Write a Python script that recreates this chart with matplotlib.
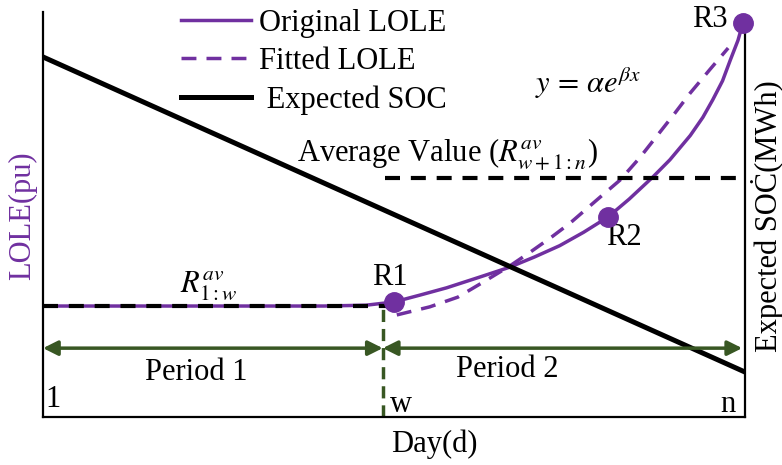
import matplotlib.pyplot as plt

plt.rcParams['font.family'] = ['Liberation Serif', 'DejaVu Serif']
plt.rcParams['mathtext.fontset'] = 'stix'

PURPLE = '#7030A0'
GREEN = '#385723'

# day axis scaled 0..100 (day 1 .. day n), LOLE / SOC scaled 0..100
soc_x = [0, 100]
soc_y = [88.9, 11.1]

flat_x = [0, 40, 46, 50]
flat_y = [27.4, 27.4, 27.6, 28.4]

orig_x = [50.0, 53.7, 57.5, 62.3, 66.5, 70.0, 73.6, 77.0, 80.5, 83.5, 86.9, 89.3,
          92.2, 94.0, 95.4, 96.8, 97.9, 99.0, 99.7]
orig_y = [28.4, 30.1, 31.9, 34.6, 37.0, 39.5, 42.3, 45.6, 49.4, 53.8, 59.3, 63.5,
          69.5, 74.0, 78.3, 83.0, 88.1, 93.0, 97.3]

fit_x = [50.4, 55.1, 59.1, 62.7, 66.5, 69.4, 72.5, 75.1, 78.9, 82.2, 85.0, 87.5,
         90.0, 92.2, 95.0, 97.6]
fit_y = [25.2, 27.2, 29.6, 33.3, 37.3, 40.7, 44.5, 47.9, 53.6, 58.5, 64.0, 69.5,
         75.0, 80.0, 85.8, 91.1]

key_points = {'R1': (50.0, 28.4), 'R2': (80.5, 49.4), 'R3': (99.7, 97.3)}

avg1_y = 27.4      # R_{1:w}^{av}
avg2_y = 59.0      # R_{w+1:n}^{av}
w_day = 48.4

fig = plt.figure(figsize=(7.82, 4.65), dpi=100)
ax = fig.add_axes([43 / 782, 48 / 465, 702 / 782, 405 / 465])
ax.set_xlim(0, 100)
ax.set_ylim(0, 100)
ax.set_xticks([])
ax.set_yticks([])
ax.spines['top'].set_visible(False)
ax.spines['right'].set_bounds(0, 96.8)
for s in ax.spines.values():
    s.set_linewidth(1.6)

# LOLE curves
ax.plot(flat_x, flat_y, color=PURPLE, lw=2.5)
ax.plot(orig_x, orig_y, color=PURPLE, lw=2.5, label='Original LOLE')
ax.plot(fit_x, fit_y, color=PURPLE, lw=2.5, ls=(0, (4.3, 2.9)), label='Fitted LOLE')
ax.plot(soc_x, soc_y, color='black', lw=3.6, label=' Expected SOC', zorder=2)

# average values
ax.plot([0, 50], [avg1_y, avg1_y], color='black', lw=3, ls=(0, (3.6, 2.6)), zorder=3)
ax.plot([48.7, 98.7], [avg2_y, avg2_y], color='black', lw=3, ls=(0, (3.6, 2.6)), zorder=3)

for name, (px, py) in key_points.items():
    ax.plot(px, py, 'o', color=PURPLE, ms=14, zorder=5, clip_on=False)

# periods
ax.plot([w_day, w_day], [0, 28.0], color=GREEN, lw=2.5, ls=(0, (3.5, 2)), zorder=1)
arrow = dict(arrowstyle='<|-|>', color=GREEN, lw=2.5, mutation_scale=22, shrinkA=0, shrinkB=0)
ax.annotate('', xy=(0, 17.0), xytext=(w_day, 17.0), arrowprops=arrow)
ax.annotate('', xy=(w_day, 17.0), xytext=(99.6, 17.0), arrowprops=arrow)

fs = 22
ax.text(21.9, 9.1, 'Period 1', fontsize=fs, ha='center', va='baseline')
ax.text(66.1, 9.9, 'Period 2', fontsize=fs, ha='center', va='baseline')
ax.text(0.3, 2.5, '1', fontsize=fs, ha='left', va='baseline')
ax.text(49.4, 1.2, 'w', fontsize=fs, ha='left', va='baseline')
ax.text(98.6, 1.2, 'n', fontsize=fs, ha='right', va='baseline')
ax.text(49.4, 32.6, 'R1', fontsize=fs, ha='center', va='baseline')
ax.text(82.8, 42.5, 'R2', fontsize=fs, ha='center', va='baseline')
ax.text(95.0, 96.3, 'R3', fontsize=fs, ha='center', va='baseline')
ax.text(19.5, 30.9, r'$R_{1:w}^{av}$', fontsize=fs, ha='left', va='baseline')
ax.text(36.2, 63.0, r'Average Value ($R_{w+1:n}^{av}$)', fontsize=fs, ha='left', va='baseline')
ax.text(70.1, 80.0, r'$y\,=\,\alpha e^{\beta x}$', fontsize=fs, ha='left', va='baseline')

ax.text(55.7, -8.6, 'Day(d)', fontsize=fs, ha='center', va='baseline', clip_on=False)
fig.text(23 / 782, 1 - 216 / 465, 'LOLE(pu)', fontsize=fs, color=PURPLE,
         rotation=90, ha='center', va='center')
fig.text(767 / 782, 1 - 216 / 465, 'Expected SO\u010a(MWh)', fontsize=fs,
         rotation=90, ha='center', va='center')

ax.legend(loc='upper left', bbox_to_anchor=(181 / 782, 456 / 465),
          bbox_transform=fig.transFigure, frameon=False, fontsize=fs,
          handlelength=2.3, handletextpad=0.26, labelspacing=0.3,
          borderpad=0, borderaxespad=0)

fig.savefig('out.png', dpi=100)
